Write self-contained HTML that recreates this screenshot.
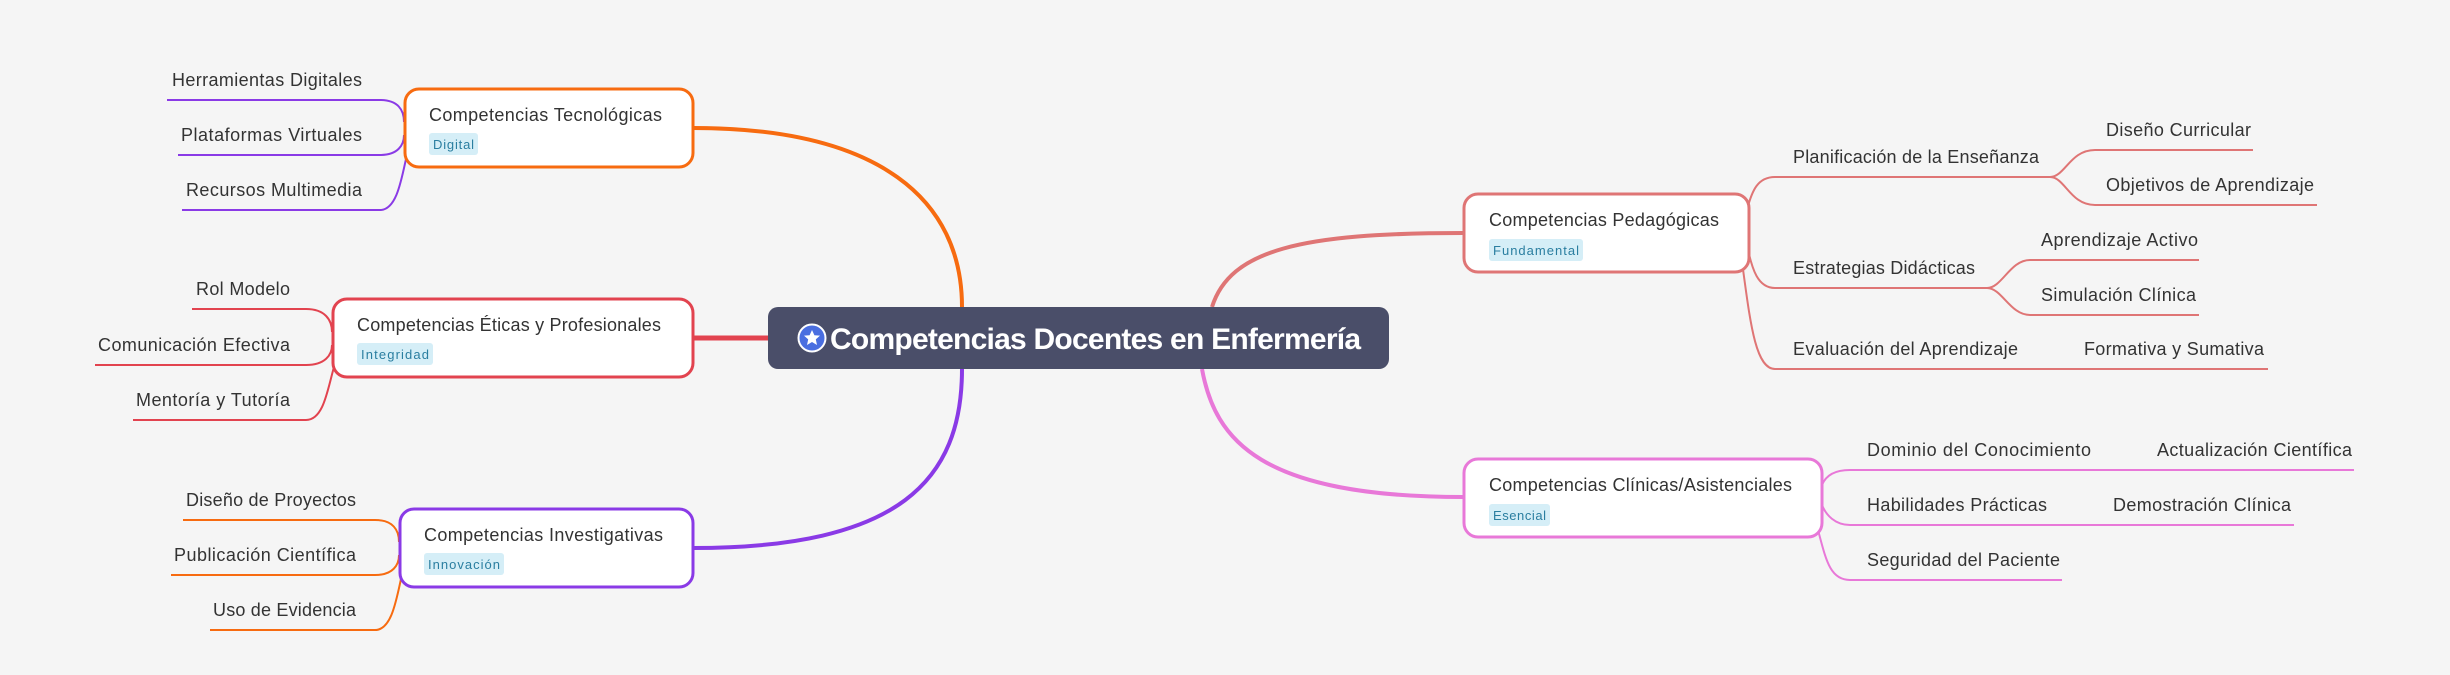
<!DOCTYPE html>
<html><head><meta charset="utf-8"><style>
html,body{margin:0;padding:0;background:#f5f5f5;}
svg{display:block;}
text{font-family:"Liberation Sans",sans-serif;}
.t{font-size:18px;fill:#333;}
.n{font-size:18px;fill:#333;}
.tag{font-size:13px;fill:#2a7ea0;}
</style></head><body>
<svg width="2450" height="675" viewBox="0 0 2450 675" xmlns="http://www.w3.org/2000/svg">
<rect width="2450" height="675" fill="#f5f5f5"/>
<!-- main edges -->
<path d="M693,128 C880,128 962,200 962,307" stroke="#f76b10" stroke-width="4" fill="none"/>
<path d="M693,338 L768,338" stroke="#e2434f" stroke-width="5" fill="none"/>
<path d="M962,369 C962,480 900,548 693,548" stroke="#8a3ae6" stroke-width="4" fill="none"/>
<path d="M1212,307 C1230,250 1300,233 1463,233" stroke="#df7575" stroke-width="4" fill="none"/>
<path d="M1202,369 C1215,440 1260,497 1463,497" stroke="#e878d8" stroke-width="4" fill="none"/>

<!-- tech children -->
<g stroke="#8a3ae6" stroke-width="2" fill="none">
<path d="M167,100 L380,100 C398,100 404,110 404,122"/>
<path d="M178,155 L380,155 C398,155 404,145 404,135"/>
<path d="M182,210 L380,210 C398,210 402,175 408,150"/>
</g>
<g stroke="#e2434f" stroke-width="2" fill="none">
<path d="M192,309 L306,309 C325,309 332,320 332,332"/>
<path d="M95,365 L306,365 C325,365 332,355 332,345"/>
<path d="M133,420 L306,420 C325,420 328,385 336,360"/>
</g>
<g stroke="#f76b10" stroke-width="2" fill="none">
<path d="M183,520 L375,520 C393,520 399,530 399,542"/>
<path d="M171,575 L375,575 C393,575 399,565 399,555"/>
<path d="M210,630 L375,630 C393,630 397,595 403,570"/>
</g>
<!-- pedag children -->
<g stroke="#df7575" stroke-width="2" fill="none">
<path d="M1747,210 C1752,190 1758,177 1775,177 L2050,177"/>
<path d="M2050,177 C2065,177 2070,150 2095,150 L2253,150"/>
<path d="M2050,177 C2065,177 2070,205 2095,205 L2317,205"/>
<path d="M1747,245 C1752,270 1758,288 1775,288 L1987,288"/>
<path d="M1987,288 C2002,288 2010,260 2030,260 L2199,260"/>
<path d="M1987,288 C2002,288 2010,315 2030,315 L2199,315"/>
<path d="M1742,262 C1750,320 1755,369 1775,369 L2268,369"/>
</g>
<g stroke="#e878d8" stroke-width="2" fill="none">
<path d="M1822,485 C1826,475 1835,470 1850,470 L2354,470"/>
<path d="M1822,505 C1826,515 1835,525 1850,525 L2294,525"/>
<path d="M1818,530 C1826,560 1830,580 1850,580 L2062,580"/>
</g>

<!-- left texts -->
<text class="t" x="362" y="86" text-anchor="end" textLength="190">Herramientas Digitales</text>
<text class="t" x="362" y="141" text-anchor="end" textLength="181">Plataformas Virtuales</text>
<text class="t" x="362" y="196" text-anchor="end" textLength="176">Recursos Multimedia</text>
<text class="t" x="290" y="295" text-anchor="end" textLength="94">Rol Modelo</text>
<text class="t" x="290" y="351" text-anchor="end" textLength="192">Comunicación Efectiva</text>
<text class="t" x="290" y="406" text-anchor="end" textLength="154">Mentoría y Tutoría</text>
<text class="t" x="356" y="506" text-anchor="end" textLength="170">Diseño de Proyectos</text>
<text class="t" x="356" y="561" text-anchor="end" textLength="182">Publicación Científica</text>
<text class="t" x="356" y="616" text-anchor="end" textLength="143">Uso de Evidencia</text>

<!-- right texts -->
<text class="t" x="1793" y="163" textLength="246">Planificación de la Enseñanza</text>
<text class="t" x="2106" y="136" textLength="145">Diseño Curricular</text>
<text class="t" x="2106" y="191" textLength="208">Objetivos de Aprendizaje</text>
<text class="t" x="1793" y="274" textLength="182">Estrategias Didácticas</text>
<text class="t" x="2041" y="246" textLength="157">Aprendizaje Activo</text>
<text class="t" x="2041" y="301" textLength="155">Simulación Clínica</text>
<text class="t" x="1793" y="355" textLength="225">Evaluación del Aprendizaje</text>
<text class="t" x="2084" y="355" textLength="180">Formativa y Sumativa</text>
<text class="t" x="1867" y="456" textLength="224">Dominio del Conocimiento</text>
<text class="t" x="2157" y="456" textLength="195">Actualización Científica</text>
<text class="t" x="1867" y="511" textLength="180">Habilidades Prácticas</text>
<text class="t" x="2113" y="511" textLength="178">Demostración Clínica</text>
<text class="t" x="1867" y="566" textLength="193">Seguridad del Paciente</text>

<!-- nodes -->
<g>
<rect x="405" y="89" width="288" height="78" rx="14" fill="#fff" stroke="#f76b10" stroke-width="3"/>
<text class="n" x="429" y="121" textLength="233">Competencias Tecnológicas</text>
<rect x="429" y="133" width="49" height="22" rx="3" fill="#d5eef7"/>
<text class="tag" x="433" y="149" textLength="41">Digital</text>

<rect x="333" y="299" width="360" height="78" rx="14" fill="#fff" stroke="#e2434f" stroke-width="3"/>
<text class="n" x="357" y="331" textLength="304">Competencias Éticas y Profesionales</text>
<rect x="357" y="343" width="76" height="22" rx="3" fill="#d5eef7"/>
<text class="tag" x="361" y="359" textLength="68">Integridad</text>

<rect x="400" y="509" width="293" height="78" rx="14" fill="#fff" stroke="#8a3ae6" stroke-width="3"/>
<text class="n" x="424" y="541" textLength="239">Competencias Investigativas</text>
<rect x="424" y="553" width="80" height="22" rx="3" fill="#d5eef7"/>
<text class="tag" x="428" y="569" textLength="72">Innovación</text>

<rect x="1464" y="194" width="285" height="78" rx="14" fill="#fff" stroke="#df7575" stroke-width="3"/>
<text class="n" x="1489" y="226" textLength="230">Competencias Pedagógicas</text>
<rect x="1489" y="239" width="94" height="22" rx="3" fill="#d5eef7"/>
<text class="tag" x="1493" y="255" textLength="86">Fundamental</text>

<rect x="1464" y="459" width="358" height="78" rx="14" fill="#fff" stroke="#e878d8" stroke-width="3"/>
<text class="n" x="1489" y="491" textLength="303">Competencias Clínicas/Asistenciales</text>
<rect x="1489" y="504" width="61" height="22" rx="3" fill="#d5eef7"/>
<text class="tag" x="1493" y="520" textLength="53">Esencial</text>

<rect x="768" y="307" width="621" height="62" rx="10" fill="#4a4e69"/>
<circle cx="812" cy="338" r="13.5" fill="#4a6ee0" stroke="#fff" stroke-width="2"/>
<polygon points="812,330 814.4,335.2 820,335.6 815.8,339.4 817,345 812,342 807,345 808.2,339.4 804,335.6 809.6,335.2" fill="#fff"/>
<text x="830" y="349" font-size="30" font-weight="bold" fill="#fff" textLength="531">Competencias Docentes en Enfermería</text>
</g>
</svg>
</body></html>
